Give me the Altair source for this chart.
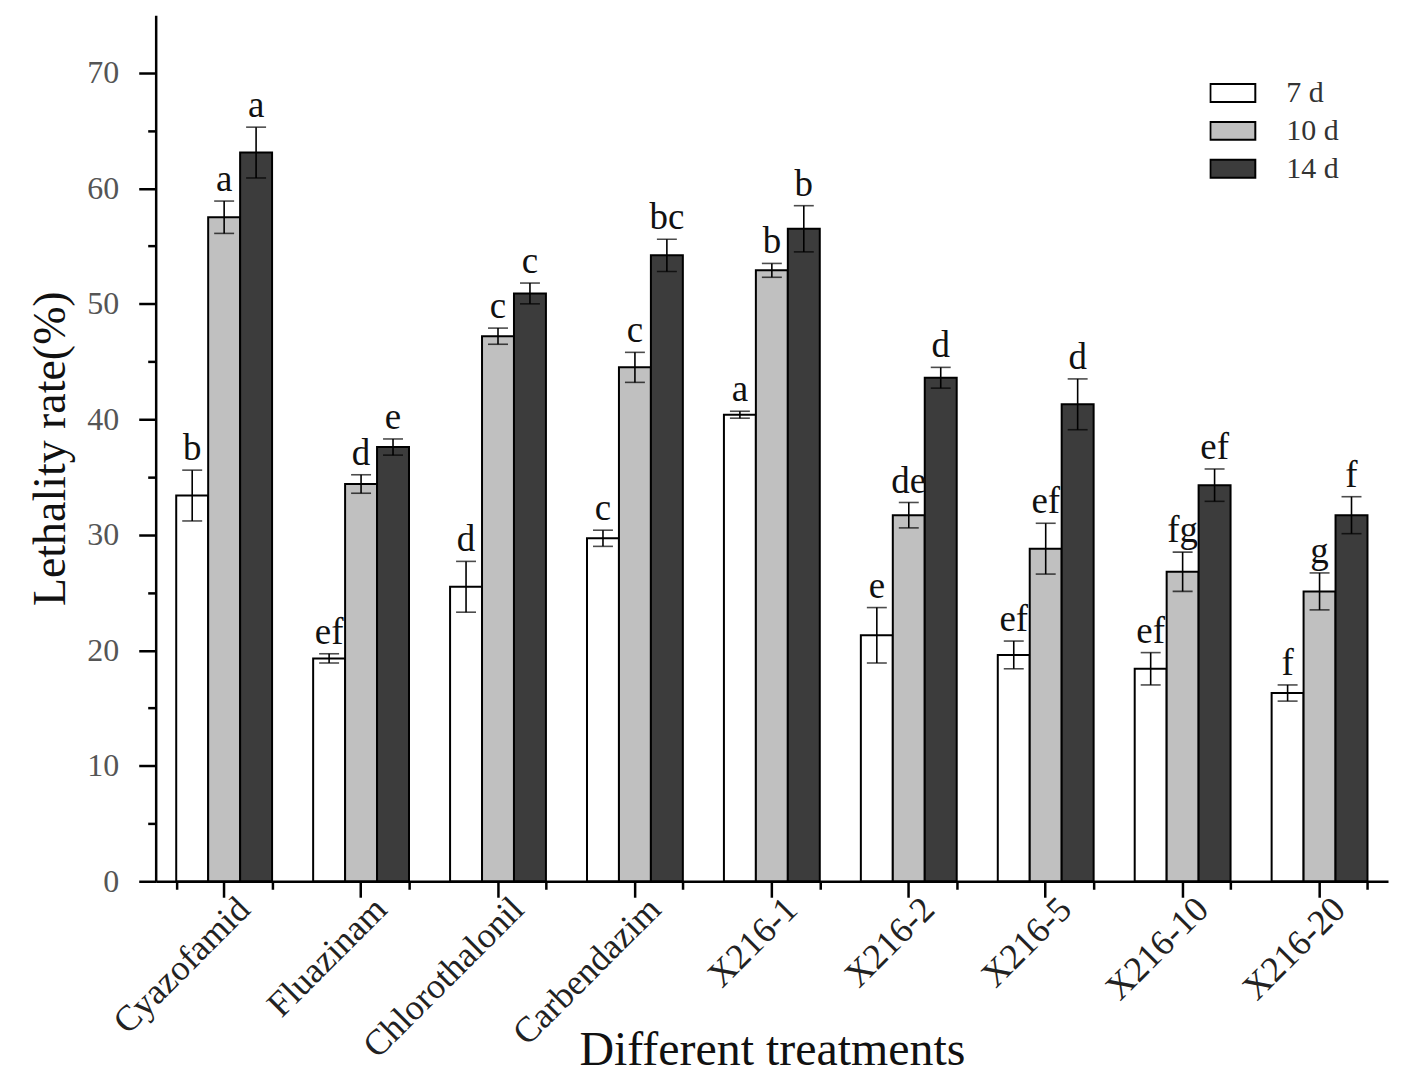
import altair as alt
import pandas as pd

treatments = ["Cyazofamid", "Fluazinam", "Chlorothalonil", "Carbendazim",
              "X216-1", "X216-2", "X216-5", "X216-10", "X216-20"]
periods = ["7 d", "10 d", "14 d"]

d7 = [33.4, 19.3, 25.5, 29.7, 40.4, 21.3, 19.6, 18.4, 16.3]
d7_err = [2.2, 0.4, 2.2, 0.7, 0.3, 2.4, 1.2, 1.4, 0.7]
d7_sig = ["b", "ef", "d", "c", "a", "e", "ef", "ef", "f"]

d10 = [57.5, 34.4, 47.2, 44.5, 52.9, 31.7, 28.8, 26.8, 25.1]
d10_err = [1.4, 0.8, 0.7, 1.3, 0.6, 1.1, 2.2, 1.7, 1.6]
d10_sig = ["a", "d", "c", "c", "b", "de", "ef", "fg", "g"]

d14 = [63.1, 37.6, 50.9, 54.2, 56.5, 43.6, 41.3, 34.3, 31.7]
d14_err = [2.2, 0.7, 0.9, 1.4, 2.0, 0.9, 2.2, 1.4, 1.6]
d14_sig = ["a", "e", "c", "bc", "b", "d", "d", "ef", "f"]

colors = ["#ffffff", "#c0c0c0", "#3c3c3c"]

rows = []
for i, t in enumerate(treatments):
    for p, vals, errs, sigs in [("7 d", d7, d7_err, d7_sig),
                                ("10 d", d10, d10_err, d10_sig),
                                ("14 d", d14, d14_err, d14_sig)]:
        rows.append({"treatment": t, "period": p, "value": vals[i],
                     "err": errs[i], "sig": sigs[i]})
df = pd.DataFrame(rows)

FONT = "Liberation Serif"

base = alt.Chart(df).transform_calculate(
    lo="datum.value - datum.err", hi="datum.value + datum.err"
)

xscale = alt.Scale(domain=treatments, paddingInner=0.3, paddingOuter=0.15)
xoff = alt.XOffset("period:N", sort=periods,
                   scale=alt.Scale(domain=periods, paddingInner=0, paddingOuter=0))
yscale = alt.Scale(domain=[0, 75], nice=False, zero=True)

yaxis = alt.Axis(
    title="Lethality rate(%)",
    values=list(range(0, 75, 5)),
    labelExpr="datum.value % 10 === 0 ? datum.label : ''",
    tickSize={"condition": {"test": "datum.value % 10 === 0", "value": 17}, "value": 8},
    labelPadding=20, labelFont=FONT, labelFontSize=32, labelColor="#555555",
    titleFont=FONT, titleFontSize=46, titleFontWeight="normal", titleColor="#111111",
    titlePadding=12, grid=False, domainColor="black", domainWidth=2.5,
    tickColor="black", tickWidth=2.5,
)

xaxis_main = alt.Axis(
    orient="bottom", title="Different treatments", labelAngle=-45,
    labelAlign="right", labelBaseline="middle", labelFont=FONT,
    labelFontSize=36, labelColor="#222222", labelPadding=6, labelOffset=20,
    labelOverlap=False, labelLimit=400,
    tickSize=16, tickWidth=2.5, tickColor="black",
    domainColor="black", domainWidth=2.5,
    titleFont=FONT, titleFontSize=48, titleFontWeight="normal",
    titleColor="#111111", titleY=184, titleBaseline="alphabetic",
    grid=False,
)

xaxis_minor = alt.Axis(
    orient="bottom", tickBand="extent", labels=False, domain=False,
    tickSize=8, tickWidth=2.5, tickColor="black", title=None, grid=False,
)

bars = base.mark_bar(stroke="black", strokeWidth=2).encode(
    x=alt.X("treatment:N", sort=treatments, scale=xscale, axis=xaxis_main),
    xOffset=xoff,
    y=alt.Y("value:Q", scale=yscale, axis=yaxis),
    color=alt.Color(
        "period:N", sort=periods,
        scale=alt.Scale(domain=periods, range=colors),
        legend=alt.Legend(
            title=None, orient="none", legendX=1056, legendY=59, padding=0,
            symbolType="M-1,-0.4H1V0.4H-1Z", symbolSize=2025,
            symbolStrokeColor="black", symbolStrokeWidth=2,
            labelFont=FONT, labelFontSize=30, labelColor="#333333",
            labelOffset=30, clipHeight=38, rowPadding=0,
        ),
    ),
)

rules = base.mark_rule(color="black", strokeWidth=1.6).encode(
    x=alt.X("treatment:N", sort=treatments, scale=xscale, axis=xaxis_minor),
    xOffset=xoff,
    y=alt.Y("lo:Q", scale=yscale, axis=yaxis),
    y2="hi:Q",
)

cap_hi = base.mark_tick(color="black", thickness=1.6, size=20).encode(
    x=alt.X("treatment:N", sort=treatments, scale=xscale, axis=None),
    xOffset=xoff,
    y=alt.Y("hi:Q", scale=yscale, axis=yaxis),
)

cap_lo = base.mark_tick(color="black", thickness=1.6, size=20).encode(
    x=alt.X("treatment:N", sort=treatments, scale=xscale, axis=None),
    xOffset=xoff,
    y=alt.Y("lo:Q", scale=yscale, axis=yaxis),
)

letters = base.mark_text(font=FONT, fontSize=37, baseline="bottom", dy=-2,
                         color="#111111").encode(
    x=alt.X("treatment:N", sort=treatments, scale=xscale, axis=None),
    xOffset=xoff,
    y=alt.Y("hi:Q", scale=yscale, axis=yaxis),
    text="sig:N",
)

chart = alt.layer(bars, rules, cap_hi, cap_lo, letters).resolve_axis(
    x="independent"
).properties(
    width=1235, height=868, background="white",
    padding={"left": 20, "top": 6, "right": 10, "bottom": 0},
).configure_view(strokeWidth=0, stroke="transparent")

chart.save("out.html", embed_options={"renderer": "svg", "actions": False})
